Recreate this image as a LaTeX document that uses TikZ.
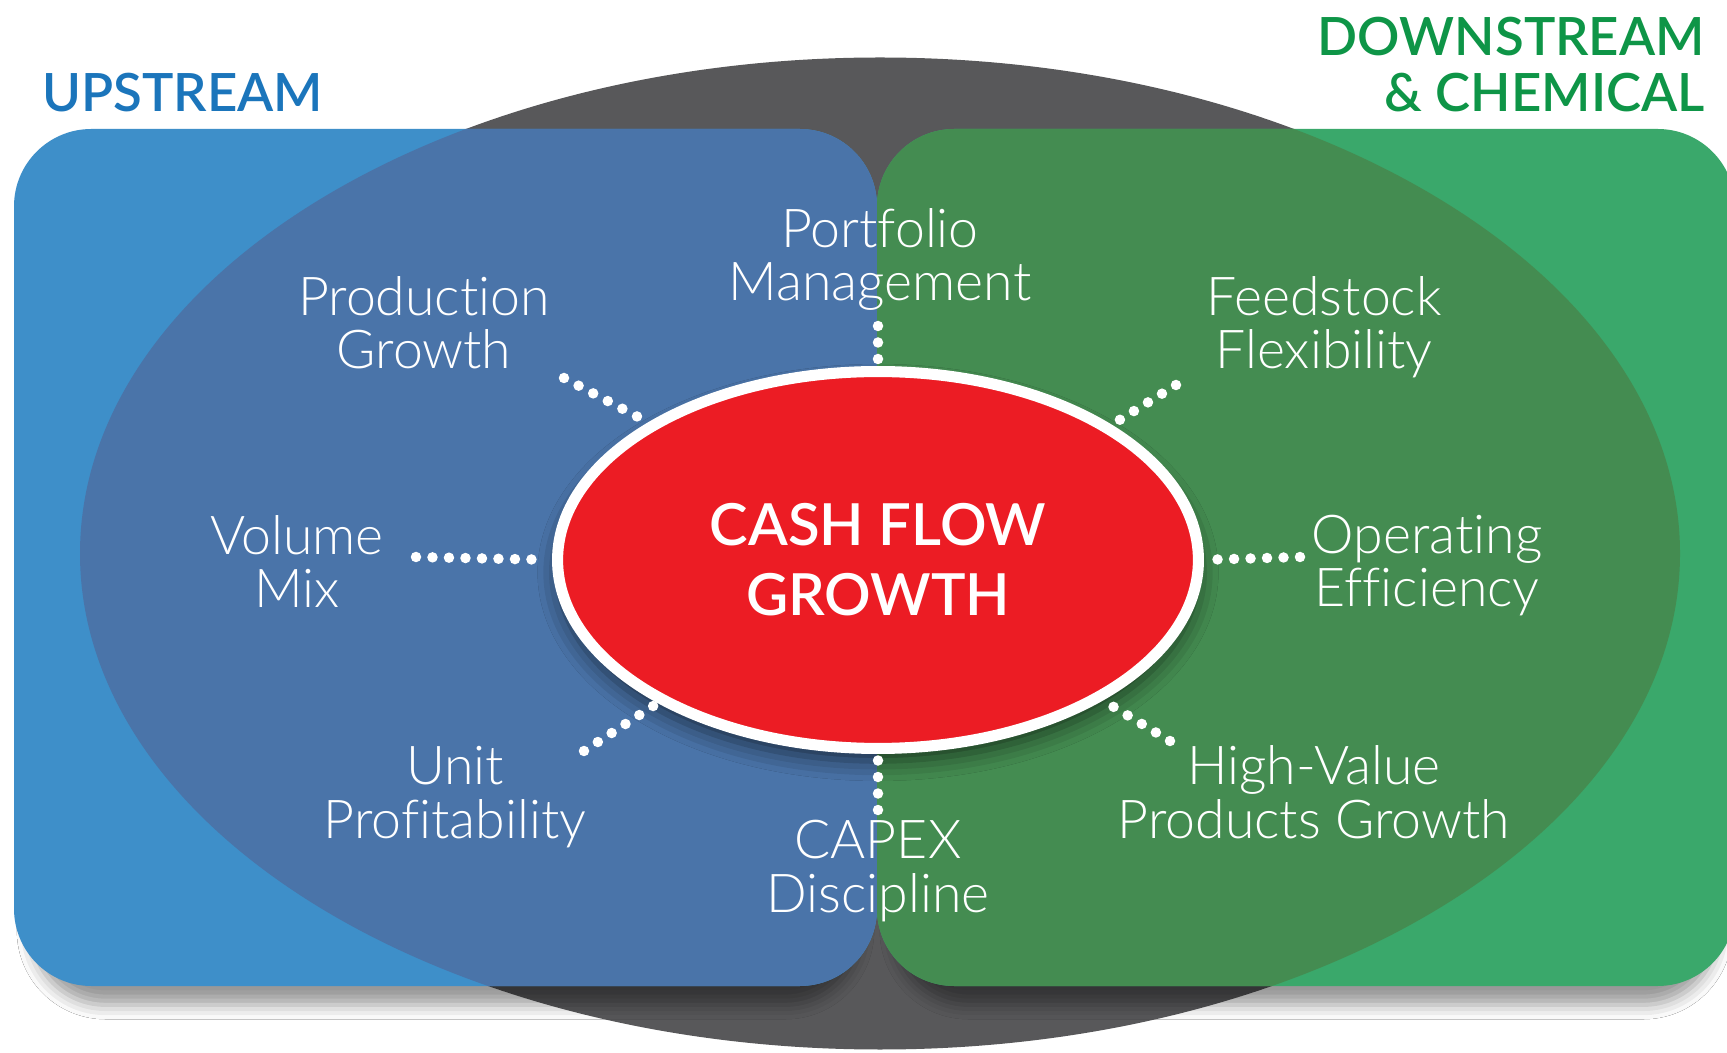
\documentclass[tikz,border=0pt]{standalone}
\usepackage{fontspec}
\setmainfont{Open Sans}
\newfontfamily\thinfont{Lato Light}[Ligatures=NoCommon, RawFeature=-calt]
\newfontfamily\headfont{Lato Semibold}
\usetikzlibrary{shapes.geometric, shadows.blur}

\definecolor{upblue}{RGB}{62,143,201}
\definecolor{updeep}{RGB}{74,116,169}
\definecolor{dngreen}{RGB}{58,168,107}
\definecolor{dndeep}{RGB}{68,140,81}
\definecolor{core}{RGB}{88,88,90}
\definecolor{cashred}{RGB}{236,28,36}
\definecolor{uptext}{RGB}{27,117,187}
\definecolor{dntext}{RGB}{14,149,71}

\tikzset{
  lbl/.style={text=white, align=center, anchor=base, inner sep=0,
    font=\thinfont\fontsize{30.5}{30.2}\selectfont},
  ttl/.style={inner sep=0, font=\headfont\fontsize{30}{32.4}\selectfont},
  dotline/.style={white, line width=0.21cm, line cap=round,
    dash pattern=on 0pt off 0.33cm, shorten >=6pt},
  boxshadow/.style={blur shadow={shadow xshift=0pt, shadow yshift=-0.75cm,
    shadow scale=0.96, shadow blur radius=0.3cm, shadow opacity=40}}
}

\begin{document}
\begin{tikzpicture}[x=0.02cm, y=0.02cm]
  \useasboundingbox (0,0) rectangle (1727,1052);
  \fill[white] (0,0) rectangle (1727,1052);
  % backdrop ellipse and the two segment panels
  \fill[core] (880,498.5) ellipse [x radius=800, y radius=496];
  \fill[upblue, rounded corners=44, boxshadow] (14,66) rectangle (877,923);
  \fill[dngreen, rounded corners=44, boxshadow] (877,66) rectangle (1735,923);
  \begin{scope}
    \clip[rounded corners=44] (14,66) rectangle (877,923);
    \fill[updeep] (880,498.5) ellipse [x radius=800, y radius=496];
  \end{scope}
  \begin{scope}
    \clip[rounded corners=44] (877,66) rectangle (1735,923);
    \fill[dndeep] (880,498.5) ellipse [x radius=800, y radius=496];
  \end{scope}

  \node[ttl, text=uptext, anchor=base west] (upt) at (42,940) {UPSTREAM};
  \node[ttl, text=dntext, align=right, anchor=base east] (dnt) at (1705,940)
    {DOWNSTREAM\\\& CHEMICAL};

  % centre
  \node[ellipse, fill=cashred, draw=white, line width=6.3pt,
    minimum width=12.82cm, minimum height=7.54cm, inner sep=0, outer sep=0,
    blur shadow={shadow xshift=0pt, shadow yshift=-0.25cm,
      shadow blur radius=0.4cm, shadow opacity=60},
    text=white, align=center, font=\headfont\fontsize{33}{39.8}\selectfont]
    (cf) at (878,492) {CASH FLOW\\GROWTH};

  \node[lbl] (pm) at (880,751) {Portfolio\\Management};
  \node[lbl] (pg) at (424,683) {Production\\Growth};
  \node[lbl] (fs) at (1324,683) {Feedstock\\Flexibility};
  \node[lbl] (vm) at (297,444) {Volume\\Mix};
  \node[lbl] (oe) at (1427,445) {Operating\\Efficiency};
  \node[lbl] (upr) at (455,214) {Unit\\Profitability};
  \node[lbl] (hv) at (1314,214) {High-Value\\Products Growth};
  \node[lbl] (cd) at (878,140) {CAPEX\\Discipline};

  \coordinate (pm-d) at (878,726);
  \coordinate (pg-d) at (564,674);
  \coordinate (fs-d) at (1176,667);
  \coordinate (vm-d) at (416,495);
  \coordinate (oe-d) at (1300,495);
  \coordinate (upr-d) at (584,301);
  \coordinate (hv-d) at (1170,311);
  \coordinate (cd-d) at (878,242);

  \draw[dotline] (pm-d) -- (cf.north);
  \draw[dotline] (pg-d) -- (cf.149);
  \draw[dotline] (fs-d) -- (cf.30);
  \draw[dotline] (vm-d) -- (cf.west);
  \draw[dotline] (oe-d) -- (cf.east);
  \draw[dotline] (upr-d) -- (cf.213);
  \draw[dotline] (hv-d) -- (cf.328);
  \draw[dotline] (cd-d) -- (cf.south);
\end{tikzpicture}
\end{document}
